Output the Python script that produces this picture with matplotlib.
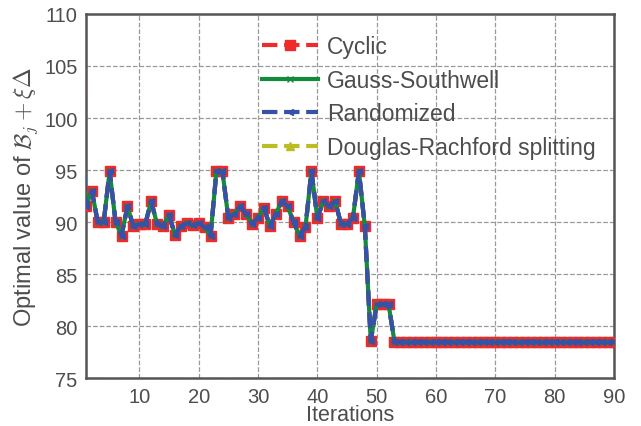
import numpy as np
import matplotlib
matplotlib.use('Agg')
from matplotlib import pyplot as plt

# values, iteration 0..90
head = [103.0, 91.5, 93.0, 90.0, 90.0, 94.9, 90.0, 88.7, 91.5, 89.6,
        89.8, 89.8, 92.0, 89.8, 89.6, 90.7, 88.8, 89.6, 89.9, 89.7,
        89.9, 89.5, 88.7, 94.9, 94.9, 90.4, 90.8, 91.5, 90.8, 89.8,
        90.4, 91.4, 89.6, 90.8, 92.0, 91.5, 90.0, 88.7, 89.5, 94.9,
        90.4, 92.0, 91.5, 92.0, 89.8, 89.8, 90.4, 94.9, 89.6, 78.6,
        82.1, 82.1, 82.1]
tail_value = 78.5
n_iter = 90

values = head + [tail_value] * (n_iter + 1 - len(head))
iters = np.arange(len(values))

labels = ['Cyclic', 'Gauss-Southwell', 'Randomized', 'Douglas-Rachford splitting']

plt.rcParams['font.family'] = ['Liberation Sans', 'DejaVu Sans']
plt.rcParams['mathtext.fontset'] = 'cm'
gray = '#4d4d4d'

fig = plt.figure(figsize=(6.41, 4.27), dpi=100)
ax = fig.add_axes([0.134, 0.112, 0.824, 0.853])

ax.plot(iters, values, color='#bcbd22', ls='--', lw=3, marker='^', ms=6, label=labels[3], zorder=2)
ax.plot(iters, values, color='#ee2a2a', ls='--', lw=3, marker='s', ms=7, label=labels[0], zorder=3)
ax.plot(iters, values, color='#138a3c', ls='-', lw=3, marker='x', ms=4, mew=1, label=labels[1], zorder=4)
ax.plot(iters, values, color='#3652a8', ls='--', lw=3, marker='<', ms=4, label=labels[2], zorder=5)

ax.set_xlim(1, 90)
ax.set_ylim(75, 110)
ax.set_xticks(np.arange(10, 91, 10))
ax.set_yticks(np.arange(75, 111, 5))
ax.grid(True, ls='--', color='#999999', lw=0.9)
ax.tick_params(length=0, labelsize=14.5, labelcolor=gray, pad=6)
for s in ax.spines.values():
    s.set_color('#555555')
    s.set_linewidth(1.8)

ax.set_xlabel('Iterations', fontsize=15.5, color=gray, labelpad=-1)
ax.set_ylabel(r'Optimal value of $\mathcal{B}_j + \xi\Delta$', fontsize=17, color=gray, labelpad=3)

h, l = ax.get_legend_handles_labels()
order = [1, 2, 3, 0]
leg = ax.legend([h[i] for i in order], [l[i] for i in order], loc='upper left',
                bbox_to_anchor=(0.316, 0.967), frameon=False, fontsize=16.5,
                handlelength=2.45, handletextpad=0.4, labelspacing=0.46,
                borderaxespad=0)
for t in leg.get_texts():
    t.set_color(gray)

fig.savefig('out.png', dpi=100)
